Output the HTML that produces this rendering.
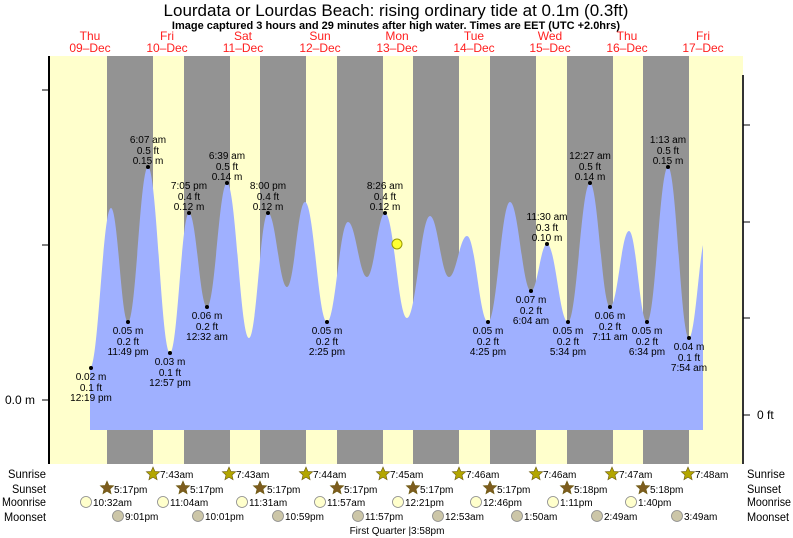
<!DOCTYPE html>
<html><head><meta charset="utf-8"><style>
html,body{margin:0;padding:0;background:#fff}
svg{display:block;font-family:"Liberation Sans",sans-serif}
</style></head><body>
<svg width="793" height="538" viewBox="0 0 793 538" xmlns="http://www.w3.org/2000/svg">
<rect width="793" height="538" fill="#fff"/>
<text x="396" y="16" font-size="17" text-anchor="middle" fill="#000">Lourdata or Lourdas Beach: rising  ordinary tide at 0.1m (0.3ft)</text>
<text x="396" y="29" font-size="11" font-weight="bold" text-anchor="middle" fill="#000">Image captured 3 hours and 29 minutes after high water. Times are EET (UTC +2.0hrs)</text>
<g font-size="12" fill="#ff2020" text-anchor="middle">
<text x="90" y="40">Thu</text><text x="90" y="52">09–Dec</text>
<text x="167" y="40">Fri</text><text x="167" y="52">10–Dec</text>
<text x="243" y="40">Sat</text><text x="243" y="52">11–Dec</text>
<text x="320" y="40">Sun</text><text x="320" y="52">12–Dec</text>
<text x="397" y="40">Mon</text><text x="397" y="52">13–Dec</text>
<text x="474" y="40">Tue</text><text x="474" y="52">14–Dec</text>
<text x="550" y="40">Wed</text><text x="550" y="52">15–Dec</text>
<text x="627" y="40">Thu</text><text x="627" y="52">16–Dec</text>
<text x="703" y="40">Fri</text><text x="703" y="52">17–Dec</text>
</g>
<rect x="49" y="56" width="694" height="408" fill="#ffffcc"/>
<g fill="#939393">
<rect x="107" y="56" width="46" height="408"/><rect x="184" y="56" width="46" height="408"/>
<rect x="260" y="56" width="46" height="408"/><rect x="337" y="56" width="46" height="408"/>
<rect x="413" y="56" width="46" height="408"/><rect x="490" y="56" width="46" height="408"/>
<rect x="567" y="56" width="46" height="408"/><rect x="643" y="56" width="46" height="408"/>
</g>
<path id="tide" fill="#9fb0ff" d=""/>
<line x1="49" y1="56" x2="49" y2="464" stroke="#000" stroke-width="2"/>
<line x1="743" y1="75" x2="743" y2="464" stroke="#333" stroke-width="2"/>
<g stroke="#000" stroke-width="1">
<line x1="42" y1="90" x2="49" y2="90"/><line x1="42" y1="245" x2="49" y2="245"/><line x1="42" y1="400" x2="49" y2="400"/>
<line x1="743" y1="125" x2="750" y2="125"/><line x1="743" y1="222" x2="750" y2="222"/><line x1="743" y1="318" x2="750" y2="318"/><line x1="743" y1="415" x2="750" y2="415"/>
</g>
<text x="35" y="404" font-size="12" text-anchor="end">0.0 m</text>
<text x="757" y="419" font-size="12">0 ft</text>
<g id="lbl" font-size="10" fill="#000" text-anchor="middle"></g>
<circle cx="397" cy="244" r="5" fill="#ffff33" stroke="#999900" stroke-width="1"/>
<g font-size="12" fill="#000" lengthAdjust="spacingAndGlyphs">
<text x="8" y="478" textLength="38" lengthAdjust="spacingAndGlyphs">Sunrise</text><text x="12" y="493" textLength="34" lengthAdjust="spacingAndGlyphs">Sunset</text><text x="2" y="506" textLength="44" lengthAdjust="spacingAndGlyphs">Moonrise</text><text x="4" y="521" textLength="42" lengthAdjust="spacingAndGlyphs">Moonset</text>
<text x="747" y="478" textLength="38" lengthAdjust="spacingAndGlyphs">Sunrise</text><text x="747" y="493" textLength="34" lengthAdjust="spacingAndGlyphs">Sunset</text><text x="747" y="506" textLength="44" lengthAdjust="spacingAndGlyphs">Moonrise</text><text x="747" y="521" textLength="42" lengthAdjust="spacingAndGlyphs">Moonset</text>
</g>
<g id="astro" font-size="10" fill="#000"></g>
<text x="397" y="534" font-size="10" text-anchor="middle">First Quarter |3:58pm</text>
</svg>
<script>
var P=[[90,368],[111,208],[128,322],[148,167],[170,353],[189,213],[207,307],[227,183],[249,338],[268,213],[287,287],[305,202],[327,322],[348,222],[367,277],[385,213],[407,318],[430,216],[449,277],[467,236],[488,322],[510,202],[531,291],[547,244],[568,322],[590,183],[610,307],[629,231],[647,322],[668,167],[689,338],[703,245]];
var d="M90,430 L90,368";
for(var i=1;i<P.length;i++){var a=P[i-1],b=P[i],dx=b[0]-a[0];
if(i==P.length-1){d+=" C"+(a[0]+dx*0.4)+","+a[1]+" "+(b[0]-dx*0.3)+","+(b[1]+20)+" "+b[0]+","+b[1];}
else d+=" C"+(a[0]+dx*0.4)+","+a[1]+" "+(b[0]-dx*0.4)+","+b[1]+" "+b[0]+","+b[1];}
d+=" L703,430 Z";document.getElementById("tide").setAttribute("d",d);
var NS="http://www.w3.org/2000/svg";
function T(g,x,y,s,anc){var t=document.createElementNS(NS,"text");t.setAttribute("x",x);t.setAttribute("y",y);if(anc)t.setAttribute("text-anchor",anc);t.textContent=s;g.appendChild(t);}
var L=document.getElementById("lbl");
var H=[[148,167,"6:07 am","0.5 ft","0.15 m"],[189,213,"7:05 pm","0.4 ft","0.12 m"],[227,183,"6:39 am","0.5 ft","0.14 m"],[268,213,"8:00 pm","0.4 ft","0.12 m"],[385,213,"8:26 am","0.4 ft","0.12 m"],[547,244,"11:30 am","0.3 ft","0.10 m"],[590,183,"12:27 am","0.5 ft","0.14 m"],[668,167,"1:13 am","0.5 ft","0.15 m"]];
var Lo=[[91,368,"0.02 m","0.1 ft","12:19 pm"],[128,322,"0.05 m","0.2 ft","11:49 pm"],[170,353,"0.03 m","0.1 ft","12:57 pm"],[207,307,"0.06 m","0.2 ft","12:32 am"],[327,322,"0.05 m","0.2 ft","2:25 pm"],[488,322,"0.05 m","0.2 ft","4:25 pm"],[531,291,"0.07 m","0.2 ft","6:04 am"],[568,322,"0.05 m","0.2 ft","5:34 pm"],[610,307,"0.06 m","0.2 ft","7:11 am"],[647,322,"0.05 m","0.2 ft","6:34 pm"],[689,338,"0.04 m","0.1 ft","7:54 am"]];
function dot(x,y){var c=document.createElementNS(NS,"circle");c.setAttribute("cx",x);c.setAttribute("cy",y);c.setAttribute("r",2);L.appendChild(c);}
H.forEach(function(h){dot(h[0],h[1]);T(L,h[0],h[1]-24,h[2]);T(L,h[0],h[1]-13,h[3]);T(L,h[0],h[1]-3,h[4]);});
Lo.forEach(function(h){dot(h[0],h[1]);T(L,h[0],h[1]+12,h[2]);T(L,h[0],h[1]+23,h[3]);T(L,h[0],h[1]+33,h[4]);});
var A=document.getElementById("astro");
function star(x,y,col){var p=[];for(var k=0;k<10;k++){var r=k%2?3.2:7,an=-Math.PI/2+k*Math.PI/5;p.push((x+r*Math.cos(an)).toFixed(1)+","+(y+r*Math.sin(an)).toFixed(1));}
var e=document.createElementNS(NS,"polygon");e.setAttribute("points",p.join(" "));e.setAttribute("fill",col);e.setAttribute("stroke","#6b5a10");e.setAttribute("stroke-width","0.6");A.appendChild(e);}
function circ(x,y,col){var c=document.createElementNS(NS,"circle");c.setAttribute("cx",x);c.setAttribute("cy",y);c.setAttribute("r",5.5);c.setAttribute("fill",col);c.setAttribute("stroke","#888");c.setAttribute("stroke-width","0.8");A.appendChild(c);}
[[153,"7:43am"],[229,"7:43am"],[306,"7:44am"],[383,"7:45am"],[459,"7:46am"],[536,"7:46am"],[612,"7:47am"],[688,"7:48am"]].forEach(function(s){star(s[0],474,"#b3a600");T(A,s[0]+7,478,s[1]);});
[[107,"5:17pm"],[183,"5:17pm"],[260,"5:17pm"],[337,"5:17pm"],[413,"5:17pm"],[490,"5:17pm"],[567,"5:18pm"],[643,"5:18pm"]].forEach(function(s){star(s[0],488,"#7d5c1e");T(A,s[0]+7,493,s[1]);});
[[86,"10:32am"],[163,"11:04am"],[242,"11:31am"],[320,"11:57am"],[398,"12:21pm"],[476,"12:46pm"],[553,"1:11pm"],[631,"1:40pm"]].forEach(function(s){circ(s[0],502,"#ffffcc");T(A,s[0]+7,506,s[1]);});
[[118,"9:01pm"],[198,"10:01pm"],[278,"10:59pm"],[358,"11:57pm"],[438,"12:53am"],[517,"1:50am"],[597,"2:49am"],[677,"3:49am"]].forEach(function(s){circ(s[0],516,"#ccc6a8");T(A,s[0]+7,520,s[1]);});
</script>
</body></html>
